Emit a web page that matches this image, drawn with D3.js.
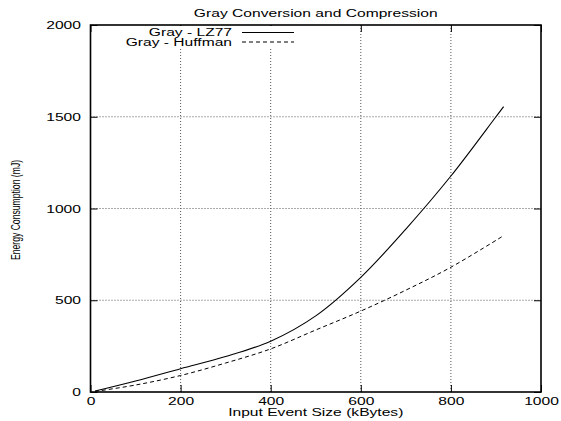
<!DOCTYPE html>
<html>
<head>
<meta charset="utf-8">
<script src="https://cdn.jsdelivr.net/npm/d3@7"></script>
<style>
  html, body { margin: 0; padding: 0; background: #fff; }
  svg { display: block; font-family: "Liberation Sans", Arial, Helvetica, sans-serif; }
</style>
</head>
<body>
<svg id="chart" width="561" height="421"></svg>
<script>
// Energy used by gray conversion followed by compression, per input event size
const eventSizes = [10, 100, 200, 300, 400, 500, 600, 700, 800, 900, 917];
const lz77Energy = [5, 60, 127, 193, 277, 415, 625, 888, 1177, 1500, 1555];

const huffmanSizes = [10, 100, 200, 300, 400, 500, 600, 700, 800, 917];
const huffmanEnergy = [3, 38, 90, 158, 235, 338, 441, 555, 680, 852];

const xTicks = [0, 200, 400, 600, 800, 1000];
const yTicks = [0, 500, 1000, 1500, 2000];

const seriesNames = ["Gray - LZ77", "Gray - Huffman"];
const chartTitle = "Gray Conversion and Compression";
const xTitle = "Input Event Size (kBytes)";
const yTitle = "Energy Consumption (mJ)";

const svg = d3.select("#chart");
const plotLeft = 90.5, plotRight = 541, plotTop = 25, plotBottom = 392;
const stretch = 1.42;   // wide lettering used for every label
const fontSize = 11;

const x = d3.scaleLinear().domain([0, 1000]).range([plotLeft, plotRight]);
const y = d3.scaleLinear().domain([0, 2000]).range([plotBottom, plotTop]);

// dotted grid
const grid = svg.append("g").attr("stroke", "#555").attr("stroke-width", 1)
  .attr("stroke-dasharray", "1,2").attr("fill", "none");
xTicks.filter(d => d > 0 && d < 1000).forEach(d => {
  grid.append("line").attr("x1", x(d)).attr("x2", x(d)).attr("y1", plotBottom).attr("y2", plotTop);
});
yTicks.filter(d => d > 0 && d < 2000).forEach(d => {
  grid.append("line").attr("x1", plotLeft).attr("x2", plotRight).attr("y1", y(d)).attr("y2", y(d));
});

// axes with inward ticks, mirrored on every side
const tickLen = 7;
const fmt = d3.format("d");
const axisStyle = g => {
  g.select(".domain").remove();
  g.selectAll(".tick line").attr("stroke", "#000").attr("stroke-width", 1);
  g.selectAll(".tick text").attr("font-size", fontSize).attr("fill", "#000")
    .attr("font-family", "Liberation Sans, Arial, sans-serif");
};

svg.append("g").attr("transform", `translate(0,${plotBottom})`)
  .call(d3.axisBottom(x).tickValues(xTicks).tickFormat(fmt).tickSize(-tickLen).tickPadding(5))
  .call(axisStyle)
  .call(g => g.selectAll(".tick text").attr("transform", `scale(${stretch},1)`));
svg.append("g").attr("transform", `translate(0,${plotTop})`)
  .call(d3.axisTop(x).tickValues(xTicks).tickSize(-tickLen).tickFormat(""))
  .call(axisStyle);
svg.append("g").attr("transform", `translate(${plotLeft},0)`)
  .call(d3.axisLeft(y).tickValues(yTicks).tickFormat(fmt).tickSize(-tickLen).tickPadding(0))
  .call(axisStyle)
  .call(g => g.selectAll(".tick text").attr("x", 0)
    .attr("transform", `translate(-9.5,0) scale(${stretch},1)`));
svg.append("g").attr("transform", `translate(${plotRight},0)`)
  .call(d3.axisRight(y).tickValues(yTicks).tickSize(-tickLen).tickFormat(""))
  .call(axisStyle);

// legend sits on a white patch over the grid
const legendX = 232, legendY = [32.5, 42];
const legendFont = 10, legendStretch = 1.56;
svg.append("rect").attr("x", 110).attr("y", plotTop + 1).attr("width", 190).attr("height", 21).attr("fill", "#fff");

// curves
const line = d3.line().x(d => x(d[0])).y(d => y(d[1])).curve(d3.curveCatmullRom.alpha(0.5));
svg.append("path")
  .datum(eventSizes.map((v, i) => [v, lz77Energy[i]]))
  .attr("d", line).attr("fill", "none").attr("stroke", "#000").attr("stroke-width", 1.1);
svg.append("path")
  .datum(huffmanSizes.map((v, i) => [v, huffmanEnergy[i]]))
  .attr("d", line).attr("fill", "none").attr("stroke", "#000").attr("stroke-width", 1)
  .attr("stroke-dasharray", "4,3");

// legend entries
const dashes = [null, "4,3"];
seriesNames.forEach((name, i) => {
  svg.append("text")
    .attr("transform", `translate(${legendX},${legendY[i]}) scale(${legendStretch},1)`)
    .attr("dy", "0.35em").attr("text-anchor", "end").attr("font-size", legendFont).text(name);
  const l = svg.append("line").attr("x1", 242).attr("x2", 294)
    .attr("y1", legendY[i]).attr("y2", legendY[i]).attr("stroke", "#000").attr("stroke-width", 1);
  if (dashes[i]) l.attr("stroke-dasharray", dashes[i]);
});

// frame
svg.append("rect").attr("x", plotLeft).attr("y", plotTop).attr("width", plotRight - plotLeft).attr("height", plotBottom - plotTop)
  .attr("fill", "none").attr("stroke", "#000").attr("stroke-width", 1.6);

// titles
const midX = (plotLeft + plotRight) / 2;
svg.append("text").attr("transform", `translate(${midX},17) scale(${stretch},1)`)
  .attr("text-anchor", "middle").attr("font-size", fontSize).text(chartTitle);
svg.append("text").attr("transform", `translate(${midX},416) scale(${stretch},1)`)
  .attr("text-anchor", "middle").attr("font-size", fontSize).text(xTitle);
svg.append("text")
  .attr("transform", "translate(20,210) rotate(-90) scale(0.72,1)")
  .attr("text-anchor", "middle").attr("font-size", 12).text(yTitle);
</script>
</body>
</html>
